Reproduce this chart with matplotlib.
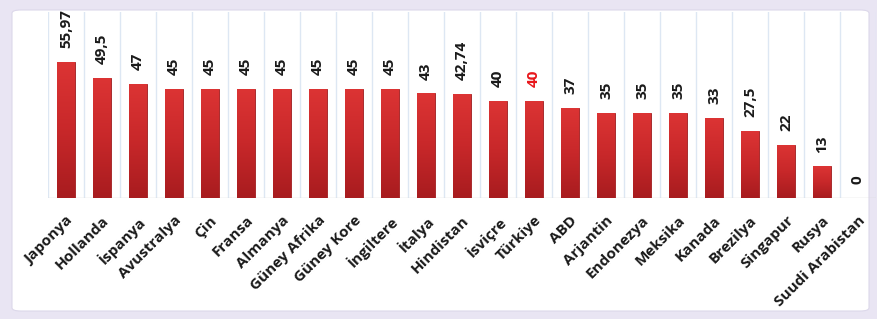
import matplotlib
matplotlib.use("Agg")
import matplotlib.pyplot as plt
from matplotlib.patches import FancyBboxPatch
from matplotlib.colors import LinearSegmentedColormap
import numpy as np

countries = ["Japonya", "Hollanda", "İspanya", "Avustralya", "Çin", "Fransa", "Almanya",
             "Güney Afrika", "Güney Kore", "İngiltere", "İtalya", "Hindistan", "İsviçre",
             "Türkiye", "ABD", "Arjantin", "Endonezya", "Meksika", "Kanada", "Brezilya",
             "Singapur", "Rusya", "Suudi Arabistan"]
values = [55.97, 49.5, 47, 45, 45, 45, 45, 45, 45, 45, 43, 42.74, 40, 40, 37, 35, 35, 35,
          33, 27.5, 22, 13, 0]
value_labels = ["55,97", "49,5", "47", "45", "45", "45", "45", "45", "45", "45", "43",
                "42,74", "40", "40", "37", "35", "35", "35", "33", "27,5", "22", "13", "0"]
highlight = "Türkiye"

plt.rcParams['font.family'] = ['Open Sans', 'DejaVu Sans']

W, H = 877, 319
fig = plt.figure(figsize=(W / 100, H / 100), dpi=100)
fig.patch.set_facecolor("#e9e5f3")
panel = FancyBboxPatch((12 / W, 8 / H), (W - 20) / W, (H - 18) / H,
                       boxstyle="round,pad=0,rounding_size=0.01",
                       transform=fig.transFigure, facecolor="white",
                       edgecolor="#dcd8ea", linewidth=0.8, zorder=-5)
fig.patches.append(panel)

ax = fig.add_axes([48 / W, 1 - 198 / H, 828 / W, 186 / H])
ax.set_zorder(5)
ax.set_facecolor("none")
x = np.arange(len(countries))
bars = ax.bar(x, values, width=0.5, color="#c9292b", edgecolor="#9e1c1e", linewidth=0.6, zorder=3)

cmap = LinearSegmentedColormap.from_list("redgrad", ["#a81c1f", "#c8282a", "#dc3434"])
grad = np.linspace(0, 1, 64).reshape(-1, 1)
for b in bars:
    h = b.get_height()
    if h <= 0:
        continue
    x0 = b.get_x()
    im = ax.imshow(grad, cmap=cmap, origin="lower", aspect="auto",
                   extent=[x0, x0 + b.get_width(), 0, h], zorder=3.5)
    im.set_clip_path(b)

ax.set_xlim(-0.5, len(countries) - 0.5)
ax.set_ylim(0, 76.5)
for bnd in np.arange(-0.5, len(countries), 1.0):
    ax.axvline(bnd, color="#dde7f3", linewidth=1.0, zorder=1)
for s in ax.spines.values():
    s.set_visible(False)
ax.axhline(0, color="#d9d9d9", linewidth=1.0, zorder=2)

ax.set_yticks([])
ax.set_xticks(x)
ax.set_xticklabels(countries, rotation=45, ha="right", rotation_mode="anchor",
                   fontsize=11, fontweight="bold", color="#1a1a1a")
ax.tick_params(axis="x", length=0, pad=11)

for xi, v, lab, c in zip(x, values, value_labels, countries):
    ax.annotate(lab, (xi, v), xytext=(0, 10), textcoords="offset points",
                rotation=90, ha="center", va="bottom", fontsize=11, fontweight="bold",
                color="#e8171b" if c == highlight else "#1a1a1a", zorder=4)

fig.savefig("out.png", dpi=100, facecolor=fig.get_facecolor())
